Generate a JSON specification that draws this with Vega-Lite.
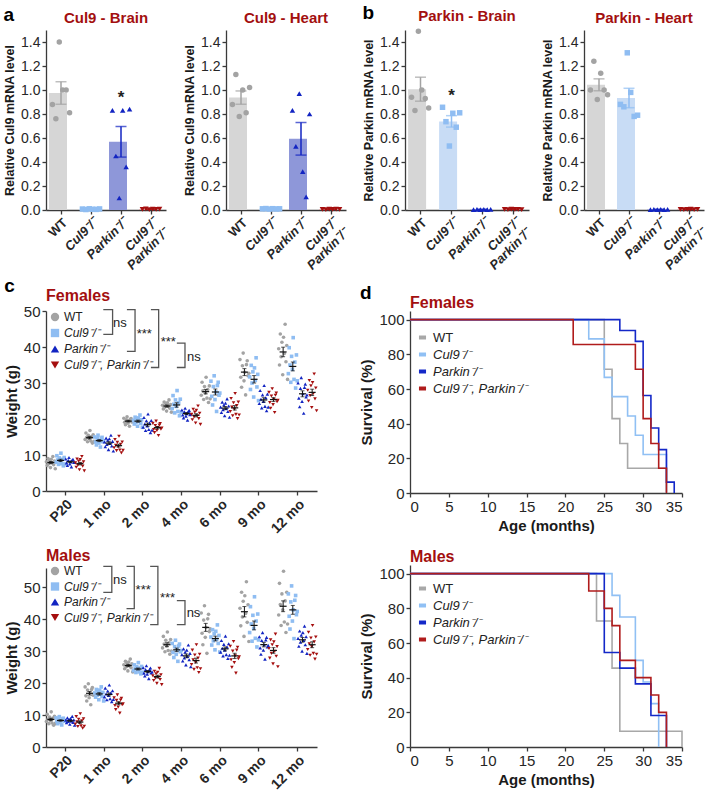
{
"$schema": "https://vega.github.io/schema/vega-lite/v6.json",
"padding": {"left": 3, "top": 4, "right": 0, "bottom": 0},
"config": {
  "font": "Liberation Sans",
  "view": {"stroke": null},
  "axis": {"grid": false, "labelOverlap": false, "domainColor": "#3a3a3a", "tickColor": "#3a3a3a", "domainWidth": 1.3, "tickWidth": 1.3, "tickSize": 4, "labelColor": "#262626", "titleColor": "#1a1a1a", "labelFontSize": 14, "titleFontSize": 14, "titleFontWeight": "bold", "labelFont": "Liberation Sans", "titleFont": "Liberation Sans"},
  "legend": {"labelFont": "Liberation Sans", "labelFontSize": 13, "labelColor": "#222"},
  "title": {"font": "Liberation Sans", "fontSize": 15, "fontWeight": "bold", "color": "#a30f0f"}
},
"datasets": {
  "bars": [
    {"p":"CB","g":"WT","v":[0.88,0.76,1.40,1.00,1.00,0.81],"r":[1,2,3,4,5,6]},
    {"p":"CB","g":"Cul9","v":[0.008,0.004,0.01,0.006,0.005,0.009],"r":[1,2,3,4,5,6]},
    {"p":"CB","g":"Parkin","v":[0.83,0.45,0.10,0.83,0.36,0.84],"r":[1,2,3,4,5,6]},
    {"p":"CB","g":"Dbl","v":[0.006,0.009,0.004,0.008,0.005,0.007],"r":[1,2,3,4,5,6]},
    {"p":"CH","g":"WT","v":[0.88,1.13,0.78,1.00,0.81,1.02],"r":[1,2,3,4,5,6]},
    {"p":"CH","g":"Cul9","v":[0.01,0.012,0.008,0.011,0.009,0.01],"r":[1,2,3,4,5,6]},
    {"p":"CH","g":"Parkin","v":[0.83,0.53,0.97,0.32,0.11,0.80],"r":[1,2,3,4,5,6]},
    {"p":"CH","g":"Dbl","v":[0.006,0.004,0.008,0.005,0.007,0.006],"r":[1,2,3,4,5,6]},
    {"p":"PB","g":"WT","v":[0.94,0.83,1.49,1.00,0.93,0.85],"r":[1,2,3,4,5,6]},
    {"p":"PB","g":"Cul9","v":[0.856,0.736,0.533,0.806,0.69,0.81],"r":[1,2,3,4,5,6]},
    {"p":"PB","g":"Parkin","v":[0.004,0.006,0.003,0.005,0.004,0.006],"r":[1,2,3,4,5,6]},
    {"p":"PB","g":"Dbl","v":[0.005,0.004,0.007,0.006,0.005,0.004],"r":[1,2,3,4,5,6]},
    {"p":"PH","g":"WT","v":[1.00,1.24,0.92,1.14,1.00,0.96],"r":[1,2,3,4,5,6]},
    {"p":"PH","g":"Cul9","v":[0.88,0.86,1.31,0.98,0.78,0.79],"r":[1,2,3,4,5,6]},
    {"p":"PH","g":"Parkin","v":[0.004,0.005,0.003,0.006,0.004,0.005],"r":[1,2,3,4,5,6]},
    {"p":"PH","g":"Dbl","v":[0.006,0.004,0.005,0.007,0.004,0.006],"r":[1,2,3,4,5,6]}
  ],
  "stars": [
    {"p":"CB","g":"Parkin","t":"*","v":0.93},
    {"p":"PB","g":"Cul9","t":"*","v":0.95}
  ],
  "wt": [
    {"s":"F","a":"P20","g":"WT","w":[8.1,7.1,9.0,7.6,8.5,6.5,8.8,7.8,9.6,7.3,8.3,6.2],"r":[1,2,3,4,5,6,7,8,9,10,11,12]},
    {"s":"F","a":"P20","g":"Cul9","w":[8.0,9.8,8.6,7.4,9.2,8.3,10.5,7.6,8.8,7.0,9.3,7.5],"r":[13,14,15,16,17,18,19,20,21,22,23,24]},
    {"s":"F","a":"P20","g":"Parkin","w":[8.9,7.8,7.1,8.5,9.3,7.5,8.1,6.7,8.6,8.8,7.9,8.0],"r":[25,26,27,28,29,30,31,32,33,34,35,36]},
    {"s":"F","a":"P20","g":"Dbl","w":[7.8,6.6,8.9,7.2,8.3,5.9,8.7,7.5,9.6,6.9,8.1,5.6],"r":[37,38,39,40,41,42,43,44,45,46,47,48]},
    {"s":"F","a":"1 mo","g":"WT","w":[14.3,16.1,14.9,13.7,15.5,14.6,16.8,13.9,15.1,13.3,15.6,13.8],"r":[1,2,3,4,5,6,7,8,9,10,11,12]},
    {"s":"F","a":"1 mo","g":"Cul9","w":[15.0,13.6,12.8,14.5,15.5,13.3,14.0,12.2,14.6,14.9,13.7,13.9],"r":[13,14,15,16,17,18,19,20,21,22,23,24]},
    {"s":"F","a":"1 mo","g":"Parkin","w":[13.6,12.3,14.7,12.9,14.1,11.5,14.5,13.2,15.5,12.5,13.8,11.1],"r":[25,26,27,28,29,30,31,32,33,34,35,36]},
    {"s":"F","a":"1 mo","g":"Dbl","w":[12.0,14.3,12.7,11.2,13.5,12.3,15.2,11.4,13.0,10.6,13.6,11.3],"r":[37,38,39,40,41,42,43,44,45,46,47,48]},
    {"s":"F","a":"2 mo","g":"WT","w":[20.2,19.1,18.4,19.8,20.6,18.8,19.4,18.0,19.9,20.1,19.2,19.3],"r":[1,2,3,4,5,6,7,8,9,10,11,12]},
    {"s":"F","a":"2 mo","g":"Cul9","w":[19.6,18.6,20.5,19.1,20.0,18.0,20.3,19.3,21.1,18.8,19.8,17.7],"r":[13,14,15,16,17,18,19,20,21,22,23,24]},
    {"s":"F","a":"2 mo","g":"Parkin","w":[17.7,20.4,18.6,16.8,19.5,18.1,21.4,17.1,18.9,16.2,19.6,16.9],"r":[25,26,27,28,29,30,31,32,33,34,35,36]},
    {"s":"F","a":"2 mo","g":"Dbl","w":[18.8,17.1,16.2,18.2,19.4,16.8,17.6,15.4,18.3,18.7,17.2,17.5],"r":[37,38,39,40,41,42,43,44,45,46,47,48]},
    {"s":"F","a":"4 mo","g":"WT","w":[23.8,22.8,24.7,23.3,24.2,22.2,24.5,23.5,25.3,23.0,24.0,21.9],"r":[1,2,3,4,5,6,7,8,9,10,11,12]},
    {"s":"F","a":"4 mo","g":"Cul9","w":[22.9,26.5,24.1,21.7,25.3,23.5,27.9,22.1,24.5,20.9,25.5,21.9],"r":[13,14,15,16,17,18,19,20,21,22,23,24]},
    {"s":"F","a":"4 mo","g":"Parkin","w":[22.5,21.1,20.3,22.0,23.0,20.8,21.5,19.7,22.1,22.4,21.2,21.4],"r":[25,26,27,28,29,30,31,32,33,34,35,36]},
    {"s":"F","a":"4 mo","g":"Dbl","w":[21.3,19.8,22.7,20.6,21.9,18.9,22.4,20.9,23.6,20.1,21.6,18.5],"r":[37,38,39,40,41,42,43,44,45,46,47,48]},
    {"s":"F","a":"6 mo","g":"WT","w":[26.6,30.2,27.8,25.4,29.0,27.2,31.6,25.8,28.2,24.6,29.2,25.6],"r":[1,2,3,4,5,6,7,8,9,10,11,12]},
    {"s":"F","a":"6 mo","g":"Cul9","w":[30.5,26.3,23.9,29.0,32.0,25.4,27.5,22.1,29.3,30.2,26.6,27.2],"r":[13,14,15,16,17,18,19,20,21,22,23,24]},
    {"s":"F","a":"6 mo","g":"Parkin","w":[23.3,21.8,24.7,22.6,23.9,20.9,24.4,22.9,25.6,22.1,23.6,20.5],"r":[25,26,27,28,29,30,31,32,33,34,35,36]},
    {"s":"F","a":"6 mo","g":"Dbl","w":[22.1,25.7,23.3,20.9,24.5,22.7,27.1,21.3,23.7,20.1,24.7,21.1],"r":[37,38,39,40,41,42,43,44,45,46,47,48]},
    {"s":"F","a":"9 mo","g":"WT","w":[36.5,31.6,28.8,34.8,38.3,30.6,33.0,26.7,35.1,36.2,32.0,32.7],"r":[1,2,3,4,5,6,7,8,9,10,11,12]},
    {"s":"F","a":"9 mo","g":"Cul9","w":[31.7,28.2,34.9,30.0,33.1,26.1,34.2,30.7,37.0,28.9,32.4,25.1],"r":[13,14,15,16,17,18,19,20,21,22,23,24]},
    {"s":"F","a":"9 mo","g":"Parkin","w":[24.3,27.9,25.5,23.1,26.7,24.9,29.3,23.5,25.9,22.3,26.9,23.3],"r":[25,26,27,28,29,30,31,32,33,34,35,36]},
    {"s":"F","a":"9 mo","g":"Dbl","w":[27.4,24.6,23.0,26.4,28.4,24.0,25.4,21.8,26.6,27.2,24.8,25.2],"r":[37,38,39,40,41,42,43,44,45,46,47,48]},
    {"s":"F","a":"12 mo","g":"WT","w":[39.5,35.0,43.6,37.3,41.3,32.3,42.7,38.2,46.3,35.9,40.4,31.0],"r":[1,2,3,4,5,6,7,8,9,10,11,12]},
    {"s":"F","a":"12 mo","g":"Cul9","w":[32.6,39.8,35.0,30.2,37.4,33.8,42.6,31.0,35.8,28.6,37.8,30.6],"r":[13,14,15,16,17,18,19,20,21,22,23,24]},
    {"s":"F","a":"12 mo","g":"Parkin","w":[30.0,25.8,23.4,28.5,31.5,24.9,27.0,21.6,28.8,29.7,26.1,26.7],"r":[25,26,27,28,29,30,31,32,33,34,35,36]},
    {"s":"F","a":"12 mo","g":"Dbl","w":[28.0,25.0,30.7,26.5,29.2,23.2,30.1,27.1,32.5,25.6,28.6,22.3],"r":[37,38,39,40,41,42,43,44,45,46,47,48]},
    {"s":"M","a":"P20","g":"WT","w":[8.0,10.2,8.7,7.3,9.4,8.4,11.0,7.5,9.0,6.8,9.6,7.4],"r":[1,2,3,4,5,6,7,8,9,10,11,12]},
    {"s":"M","a":"P20","g":"Cul9","w":[9.1,8.0,7.3,8.7,9.5,7.7,8.3,6.9,8.8,9.0,8.1,8.2],"r":[13,14,15,16,17,18,19,20,21,22,23,24]},
    {"s":"M","a":"P20","g":"Parkin","w":[8.4,7.6,9.1,8.0,8.7,7.1,8.9,8.1,9.6,7.7,8.5,6.8],"r":[25,26,27,28,29,30,31,32,33,34,35,36]},
    {"s":"M","a":"P20","g":"Dbl","w":[7.2,9.5,7.9,6.4,8.7,7.5,10.4,6.6,8.2,5.9,8.8,6.5],"r":[37,38,39,40,41,42,43,44,45,46,47,48]},
    {"s":"M","a":"1 mo","g":"WT","w":[18.8,16.0,14.4,17.8,19.8,15.4,16.8,13.2,18.0,18.6,16.2,16.6],"r":[1,2,3,4,5,6,7,8,9,10,11,12]},
    {"s":"M","a":"1 mo","g":"Cul9","w":[16.9,15.6,18.0,16.2,17.4,14.8,17.8,16.5,18.8,15.8,17.1,14.4],"r":[13,14,15,16,17,18,19,20,21,22,23,24]},
    {"s":"M","a":"1 mo","g":"Parkin","w":[15.7,18.4,16.6,14.8,17.5,16.1,19.4,15.1,16.9,14.2,17.6,14.9],"r":[25,26,27,28,29,30,31,32,33,34,35,36]},
    {"s":"M","a":"1 mo","g":"Dbl","w":[15.4,13.0,11.7,14.6,16.3,12.5,13.7,10.6,14.7,15.2,13.2,13.5],"r":[37,38,39,40,41,42,43,44,45,46,47,48]},
    {"s":"M","a":"2 mo","g":"WT","w":[25.7,24.5,26.8,25.1,26.2,23.8,26.6,25.4,27.5,24.8,26.0,23.5],"r":[1,2,3,4,5,6,7,8,9,10,11,12]},
    {"s":"M","a":"2 mo","g":"Cul9","w":[23.9,25.7,24.5,23.3,25.1,24.2,26.4,23.5,24.7,22.9,25.2,23.4],"r":[13,14,15,16,17,18,19,20,21,22,23,24]},
    {"s":"M","a":"2 mo","g":"Parkin","w":[24.8,23.1,22.2,24.2,25.4,22.8,23.6,21.4,24.3,24.7,23.2,23.5],"r":[25,26,27,28,29,30,31,32,33,34,35,36]},
    {"s":"M","a":"2 mo","g":"Dbl","w":[22.3,20.8,23.7,21.6,22.9,19.9,23.4,21.9,24.6,21.1,22.6,19.5],"r":[37,38,39,40,41,42,43,44,45,46,47,48]},
    {"s":"M","a":"4 mo","g":"WT","w":[31.0,34.6,32.2,29.8,33.4,31.6,36.0,30.2,32.6,29.0,33.6,30.0],"r":[1,2,3,4,5,6,7,8,9,10,11,12]},
    {"s":"M","a":"4 mo","g":"Cul9","w":[32.4,29.6,28.0,31.4,33.4,29.0,30.4,26.8,31.6,32.2,29.8,30.2],"r":[13,14,15,16,17,18,19,20,21,22,23,24]},
    {"s":"M","a":"4 mo","g":"Parkin","w":[28.9,26.9,30.7,27.9,29.7,25.7,30.3,28.3,31.9,27.3,29.3,25.1],"r":[25,26,27,28,29,30,31,32,33,34,35,36]},
    {"s":"M","a":"4 mo","g":"Dbl","w":[25.8,30.3,27.3,24.3,28.8,26.5,32.0,24.8,27.8,23.3,29.0,24.5],"r":[37,38,39,40,41,42,43,44,45,46,47,48]},
    {"s":"M","a":"6 mo","g":"WT","w":[41.9,35.6,32.0,39.7,44.2,34.3,37.4,29.3,40.1,41.5,36.1,37.0],"r":[1,2,3,4,5,6,7,8,9,10,11,12]},
    {"s":"M","a":"6 mo","g":"Cul9","w":[34.4,31.9,36.7,33.2,35.4,30.4,36.2,33.7,38.2,32.4,34.9,29.7],"r":[13,14,15,16,17,18,19,20,21,22,23,24]},
    {"s":"M","a":"6 mo","g":"Parkin","w":[29.7,33.3,30.9,28.5,32.1,30.3,34.7,28.9,31.3,27.7,32.3,28.7],"r":[25,26,27,28,29,30,31,32,33,34,35,36]},
    {"s":"M","a":"6 mo","g":"Dbl","w":[31.5,27.3,24.9,30.0,33.0,26.4,28.5,23.1,30.3,31.2,27.6,28.2],"r":[37,38,39,40,41,42,43,44,45,46,47,48]},
    {"s":"M","a":"9 mo","g":"WT","w":[43.4,37.9,48.4,40.7,45.6,34.6,47.3,41.8,51.7,39.0,44.5,33.0],"r":[1,2,3,4,5,6,7,8,9,10,11,12]},
    {"s":"M","a":"9 mo","g":"Cul9","w":[35.8,43.9,38.5,33.1,41.2,37.1,47.0,34.0,39.4,31.3,41.6,33.5],"r":[13,14,15,16,17,18,19,20,21,22,23,24]},
    {"s":"M","a":"9 mo","g":"Parkin","w":[34.5,31.0,29.0,33.3,35.8,30.3,32.0,27.5,33.5,34.3,31.3,31.8],"r":[25,26,27,28,29,30,31,32,33,34,35,36]},
    {"s":"M","a":"9 mo","g":"Dbl","w":[30.8,27.8,33.5,29.3,32.0,26.0,32.9,29.9,35.3,28.4,31.4,25.1],"r":[37,38,39,40,41,42,43,44,45,46,47,48]},
    {"s":"M","a":"12 mo","g":"WT","w":[41.3,51.2,44.6,38.0,47.9,42.9,55.0,39.1,45.7,35.8,48.4,38.5],"r":[1,2,3,4,5,6,7,8,9,10,11,12]},
    {"s":"M","a":"12 mo","g":"Cul9","w":[47.9,40.9,36.9,45.4,50.4,39.4,42.9,33.9,45.9,47.4,41.4,42.4],"r":[13,14,15,16,17,18,19,20,21,22,23,24]},
    {"s":"M","a":"12 mo","g":"Parkin","w":[34.0,31.5,36.3,32.8,35.0,30.0,35.8,33.3,37.8,32.0,34.5,29.3],"r":[25,26,27,28,29,30,31,32,33,34,35,36]},
    {"s":"M","a":"12 mo","g":"Dbl","w":[30.5,35.9,32.3,28.7,34.1,31.4,38.0,29.3,32.9,27.5,34.4,29.0],"r":[37,38,39,40,41,42,43,44,45,46,47,48]}
  ],
  "br": [
    {"s":"F","b":1,"x":[1.48,1.72,1.72,1.48],"y":[50.4,50.4,43.5,43.5],"o":[1,2,3,4]},
    {"s":"F","b":2,"x":[2.09,2.30,2.30,2.09],"y":[50.4,50.4,38.8,38.8],"o":[1,2,3,4]},
    {"s":"F","b":3,"x":[2.71,2.91,2.91,2.71],"y":[50.4,50.4,34.3,34.3],"o":[1,2,3,4]},
    {"s":"F","b":4,"x":[3.38,3.59,3.59,3.38],"y":[41.1,41.1,34.3,34.3],"o":[1,2,3,4]},
    {"s":"M","b":1,"x":[1.48,1.70,1.70,1.48],"y":[56.5,56.5,48.4,48.4],"o":[1,2,3,4]},
    {"s":"M","b":2,"x":[2.08,2.28,2.28,2.08],"y":[56.5,56.5,43.3,43.3],"o":[1,2,3,4]},
    {"s":"M","b":3,"x":[2.69,2.89,2.89,2.69],"y":[56.5,56.5,38.3,38.3],"o":[1,2,3,4]},
    {"s":"M","b":4,"x":[3.38,3.59,3.59,3.38],"y":[45.8,45.8,38.3,38.3],"o":[1,2,3,4]}
  ],
  "bt": [
    {"s":"F","t":"ns","x":1.91,"y":46.8},{"s":"F","t":"***","x":2.54,"y":43.6},{"s":"F","t":"***","x":3.16,"y":41.5},{"s":"F","t":"ns","x":3.82,"y":37.2},
    {"s":"M","t":"ns","x":1.91,"y":52.3},{"s":"M","t":"***","x":2.51,"y":49.1},{"s":"M","t":"***","x":3.14,"y":46.5},{"s":"M","t":"ns","x":3.81,"y":41.9}
  ],
  "sv": [
    {"s":"F","g":"WT","t":[0,25,26,27,28,33],"v":[100,71.4,42.9,28.6,14.3,0]},
    {"s":"F","g":"Cul9","t":[0,23,25,26,28,29,30,33],"v":[100,88.9,66.7,55.6,44.4,33.3,22.2,0]},
    {"s":"F","g":"Parkin","t":[0,27,29,30,31,32,33,34],"v":[100,93.75,87.5,56.25,37.5,25,6.25,0]},
    {"s":"F","g":"Dbl","t":[0,21,29,30,31,32,33],"v":[100,85.7,71.4,42.9,28.6,14.3,0]},
    {"s":"M","g":"WT","t":[0,24,26,27,35],"v":[100,72.7,45.5,9.1,0]},
    {"s":"M","g":"Cul9","t":[0,26,27,29,30,31,32],"v":[100,87.5,75,50,37.5,25,0]},
    {"s":"M","g":"Parkin","t":[0,25,27,29,31,33],"v":[100,54.5,45.5,36.4,18.2,0]},
    {"s":"M","g":"Dbl","t":[0,23,25,26,27,29,31,32,33],"v":[100,90,80,70,50,40,30,20,0]}
  ]
},
"resolve": {"scale": {"color": "independent", "fill": "independent", "shape": "independent"}},
"vconcat": [
  {"resolve": {"scale": {"color": "independent", "fill": "independent", "shape": "independent"}},
   "hconcat": [
    {"title": {"text": "a", "anchor": "start", "fontSize": 19, "color": "#000", "offset": -14},
     "resolve": {"scale": {"color": "independent", "fill": "independent", "shape": "independent"}},
     "hconcat": [
      {"width": 120, "height": 180, "title": {"text": "Cul9 - Brain"},
       "encoding": {"x": {"field": "g", "type": "nominal", "title": null, "scale": {"domain": ["WT","Cul9","Parkin","Dbl"], "paddingInner": 0.2, "paddingOuter": 0.1},
         "axis": {"labelAngle": -45, "labelAlign": "right", "labelBaseline": "top", "labelFontWeight": "bold", "labelFontSize": 13, "labelPadding": 2,
           "labelFontStyle": {"condition": {"test": "datum.value == 'WT'", "value": "normal"}, "value": "italic"},
           "labelExpr": "datum.value == 'WT' ? 'WT' : datum.value == 'Dbl' ? ['Cul9⁻/⁻', 'Parkin⁻/⁻'] : datum.value + '⁻/⁻'"}}},
       "layer": [
        {"data": {"name": "bars"}, "transform": [{"filter": "datum.p == 'CB'"}, {"flatten": ["v","r"]}], "mark": {"type": "bar"},
         "encoding": {"y": {"aggregate": "mean", "field": "v", "type": "quantitative", "title": "Relative Cul9 mRNA level", "scale": {"domain": [0,1.5], "nice": false}, "axis": {"values": [0,0.2,0.4,0.6,0.8,1,1.2,1.4], "format": ".1f", "titleFontSize": 12.5, "labelOverlap": false}},
           "fill": {"field": "g", "type": "nominal", "scale": {"domain": ["WT","Cul9","Parkin","Dbl"], "range": ["#d6d6d6","#c8dcf5","#8e97d9","#e6a3a3"]}, "legend": null}}},
        {"data": {"name": "bars"}, "transform": [{"filter": "datum.p == 'CB'"}, {"flatten": ["v","r"]}], "mark": {"type": "errorbar", "extent": "stderr", "ticks": {"size": 11, "thickness": 1.5}, "rule": {"strokeWidth": 1.5}},
         "encoding": {"y": {"field": "v", "type": "quantitative", "title": "Relative Cul9 mRNA level", "axis": {"values": [0,0.2,0.4,0.6,0.8,1,1.2,1.4], "format": ".1f", "titleFontSize": 12.5, "labelOverlap": false}},
           "color": {"field": "g", "type": "nominal", "scale": {"domain": ["WT","Cul9","Parkin","Dbl"], "range": ["#a3a3a3","#8fbdf2","#1224c2","#a50f0f"]}, "legend": null}}},
        {"data": {"name": "bars"}, "transform": [{"filter": "datum.p == 'CB'"}, {"flatten": ["v","r"]}], "mark": {"type": "point", "filled": true, "size": 30, "opacity": 1},
         "encoding": {"y": {"field": "v", "type": "quantitative", "title": "Relative Cul9 mRNA level", "axis": {"values": [0,0.2,0.4,0.6,0.8,1,1.2,1.4], "format": ".1f", "titleFontSize": 12.5, "labelOverlap": false}},
           "xOffset": {"field": "r", "type": "ordinal", "scale": {"paddingOuter": 2}},
           "color": {"field": "g", "type": "nominal", "scale": {"domain": ["WT","Cul9","Parkin","Dbl"], "range": ["#a3a3a3","#8fbdf2","#1224c2","#a50f0f"]}, "legend": null},
           "shape": {"field": "g", "type": "nominal", "scale": {"domain": ["WT","Cul9","Parkin","Dbl"], "range": ["circle","square","triangle-up","triangle-down"]}, "legend": null}}},
        {"data": {"name": "stars"}, "transform": [{"filter": "datum.p == 'CB'"}], "mark": {"type": "text", "fontSize": 17, "fontWeight": "bold", "color": "#222"},
         "encoding": {"y": {"field": "v", "type": "quantitative", "title": "Relative Cul9 mRNA level", "axis": {"values": [0,0.2,0.4,0.6,0.8,1,1.2,1.4], "format": ".1f", "titleFontSize": 12.5, "labelOverlap": false}}, "text": {"field": "t"}}}
       ]},
      {"width": 120, "height": 180, "title": {"text": "Cul9 - Heart"},
       "encoding": {"x": {"field": "g", "type": "nominal", "title": null, "scale": {"domain": ["WT","Cul9","Parkin","Dbl"], "paddingInner": 0.2, "paddingOuter": 0.1},
         "axis": {"labelAngle": -45, "labelAlign": "right", "labelBaseline": "top", "labelFontWeight": "bold", "labelFontSize": 13, "labelPadding": 2,
           "labelFontStyle": {"condition": {"test": "datum.value == 'WT'", "value": "normal"}, "value": "italic"},
           "labelExpr": "datum.value == 'WT' ? 'WT' : datum.value == 'Dbl' ? ['Cul9⁻/⁻', 'Parkin⁻/⁻'] : datum.value + '⁻/⁻'"}}},
       "layer": [
        {"data": {"name": "bars"}, "transform": [{"filter": "datum.p == 'CH'"}, {"flatten": ["v","r"]}], "mark": {"type": "bar"},
         "encoding": {"y": {"aggregate": "mean", "field": "v", "type": "quantitative", "title": "Relative Cul9 mRNA level", "scale": {"domain": [0,1.5], "nice": false}, "axis": {"values": [0,0.2,0.4,0.6,0.8,1,1.2,1.4], "format": ".1f", "titleFontSize": 12.5, "labelOverlap": false}},
           "fill": {"field": "g", "type": "nominal", "scale": {"domain": ["WT","Cul9","Parkin","Dbl"], "range": ["#d6d6d6","#c8dcf5","#8e97d9","#e6a3a3"]}, "legend": null}}},
        {"data": {"name": "bars"}, "transform": [{"filter": "datum.p == 'CH'"}, {"flatten": ["v","r"]}], "mark": {"type": "errorbar", "extent": "stderr", "ticks": {"size": 11, "thickness": 1.5}, "rule": {"strokeWidth": 1.5}},
         "encoding": {"y": {"field": "v", "type": "quantitative", "title": "Relative Cul9 mRNA level", "axis": {"values": [0,0.2,0.4,0.6,0.8,1,1.2,1.4], "format": ".1f", "titleFontSize": 12.5, "labelOverlap": false}},
           "color": {"field": "g", "type": "nominal", "scale": {"domain": ["WT","Cul9","Parkin","Dbl"], "range": ["#a3a3a3","#8fbdf2","#1224c2","#a50f0f"]}, "legend": null}}},
        {"data": {"name": "bars"}, "transform": [{"filter": "datum.p == 'CH'"}, {"flatten": ["v","r"]}], "mark": {"type": "point", "filled": true, "size": 30, "opacity": 1},
         "encoding": {"y": {"field": "v", "type": "quantitative", "title": "Relative Cul9 mRNA level", "axis": {"values": [0,0.2,0.4,0.6,0.8,1,1.2,1.4], "format": ".1f", "titleFontSize": 12.5, "labelOverlap": false}},
           "xOffset": {"field": "r", "type": "ordinal", "scale": {"paddingOuter": 2}},
           "color": {"field": "g", "type": "nominal", "scale": {"domain": ["WT","Cul9","Parkin","Dbl"], "range": ["#a3a3a3","#8fbdf2","#1224c2","#a50f0f"]}, "legend": null},
           "shape": {"field": "g", "type": "nominal", "scale": {"domain": ["WT","Cul9","Parkin","Dbl"], "range": ["circle","square","triangle-up","triangle-down"]}, "legend": null}}}
       ]}
     ], "spacing": 12},
    {"title": {"text": "b", "anchor": "start", "fontSize": 19, "color": "#000", "offset": -14},
     "resolve": {"scale": {"color": "independent", "fill": "independent", "shape": "independent"}},
     "hconcat": [
      {"width": 124, "height": 180, "title": {"text": "Parkin - Brain"},
       "encoding": {"x": {"field": "g", "type": "nominal", "title": null, "scale": {"domain": ["WT","Cul9","Parkin","Dbl"], "paddingInner": 0.2, "paddingOuter": 0.1},
         "axis": {"labelAngle": -45, "labelAlign": "right", "labelBaseline": "top", "labelFontWeight": "bold", "labelFontSize": 13, "labelPadding": 2,
           "labelFontStyle": {"condition": {"test": "datum.value == 'WT'", "value": "normal"}, "value": "italic"},
           "labelExpr": "datum.value == 'WT' ? 'WT' : datum.value == 'Dbl' ? ['Cul9⁻/⁻', 'Parkin⁻/⁻'] : datum.value + '⁻/⁻'"}}},
       "layer": [
        {"data": {"name": "bars"}, "transform": [{"filter": "datum.p == 'PB'"}, {"flatten": ["v","r"]}], "mark": {"type": "bar"},
         "encoding": {"y": {"aggregate": "mean", "field": "v", "type": "quantitative", "title": "Relative Parkin mRNA level", "scale": {"domain": [0,1.5], "nice": false}, "axis": {"values": [0,0.2,0.4,0.6,0.8,1,1.2,1.4], "format": ".1f", "titleFontSize": 12.5, "labelOverlap": false}},
           "fill": {"field": "g", "type": "nominal", "scale": {"domain": ["WT","Cul9","Parkin","Dbl"], "range": ["#d6d6d6","#c8dcf5","#8e97d9","#e6a3a3"]}, "legend": null}}},
        {"data": {"name": "bars"}, "transform": [{"filter": "datum.p == 'PB'"}, {"flatten": ["v","r"]}], "mark": {"type": "errorbar", "extent": "stderr", "ticks": {"size": 11, "thickness": 1.5}, "rule": {"strokeWidth": 1.5}},
         "encoding": {"y": {"field": "v", "type": "quantitative", "title": "Relative Parkin mRNA level", "axis": {"values": [0,0.2,0.4,0.6,0.8,1,1.2,1.4], "format": ".1f", "titleFontSize": 12.5, "labelOverlap": false}},
           "color": {"field": "g", "type": "nominal", "scale": {"domain": ["WT","Cul9","Parkin","Dbl"], "range": ["#a3a3a3","#8fbdf2","#1224c2","#a50f0f"]}, "legend": null}}},
        {"data": {"name": "bars"}, "transform": [{"filter": "datum.p == 'PB'"}, {"flatten": ["v","r"]}], "mark": {"type": "point", "filled": true, "size": 30, "opacity": 1},
         "encoding": {"y": {"field": "v", "type": "quantitative", "title": "Relative Parkin mRNA level", "axis": {"values": [0,0.2,0.4,0.6,0.8,1,1.2,1.4], "format": ".1f", "titleFontSize": 12.5, "labelOverlap": false}},
           "xOffset": {"field": "r", "type": "ordinal", "scale": {"paddingOuter": 2}},
           "color": {"field": "g", "type": "nominal", "scale": {"domain": ["WT","Cul9","Parkin","Dbl"], "range": ["#a3a3a3","#8fbdf2","#1224c2","#a50f0f"]}, "legend": null},
           "shape": {"field": "g", "type": "nominal", "scale": {"domain": ["WT","Cul9","Parkin","Dbl"], "range": ["circle","square","triangle-up","triangle-down"]}, "legend": null}}},
        {"data": {"name": "stars"}, "transform": [{"filter": "datum.p == 'PB'"}], "mark": {"type": "text", "fontSize": 17, "fontWeight": "bold", "color": "#222"},
         "encoding": {"y": {"field": "v", "type": "quantitative", "title": "Relative Parkin mRNA level", "axis": {"values": [0,0.2,0.4,0.6,0.8,1,1.2,1.4], "format": ".1f", "titleFontSize": 12.5, "labelOverlap": false}}, "text": {"field": "t"}}}
       ]},
      {"width": 120, "height": 180, "title": {"text": "Parkin - Heart"},
       "encoding": {"x": {"field": "g", "type": "nominal", "title": null, "scale": {"domain": ["WT","Cul9","Parkin","Dbl"], "paddingInner": 0.2, "paddingOuter": 0.1},
         "axis": {"labelAngle": -45, "labelAlign": "right", "labelBaseline": "top", "labelFontWeight": "bold", "labelFontSize": 13, "labelPadding": 2,
           "labelFontStyle": {"condition": {"test": "datum.value == 'WT'", "value": "normal"}, "value": "italic"},
           "labelExpr": "datum.value == 'WT' ? 'WT' : datum.value == 'Dbl' ? ['Cul9⁻/⁻', 'Parkin⁻/⁻'] : datum.value + '⁻/⁻'"}}},
       "layer": [
        {"data": {"name": "bars"}, "transform": [{"filter": "datum.p == 'PH'"}, {"flatten": ["v","r"]}], "mark": {"type": "bar"},
         "encoding": {"y": {"aggregate": "mean", "field": "v", "type": "quantitative", "title": "Relative Parkin mRNA level", "scale": {"domain": [0,1.5], "nice": false}, "axis": {"values": [0,0.2,0.4,0.6,0.8,1,1.2,1.4], "format": ".1f", "titleFontSize": 12.5, "labelOverlap": false}},
           "fill": {"field": "g", "type": "nominal", "scale": {"domain": ["WT","Cul9","Parkin","Dbl"], "range": ["#d6d6d6","#c8dcf5","#8e97d9","#e6a3a3"]}, "legend": null}}},
        {"data": {"name": "bars"}, "transform": [{"filter": "datum.p == 'PH'"}, {"flatten": ["v","r"]}], "mark": {"type": "errorbar", "extent": "stderr", "ticks": {"size": 11, "thickness": 1.5}, "rule": {"strokeWidth": 1.5}},
         "encoding": {"y": {"field": "v", "type": "quantitative", "title": "Relative Parkin mRNA level", "axis": {"values": [0,0.2,0.4,0.6,0.8,1,1.2,1.4], "format": ".1f", "titleFontSize": 12.5, "labelOverlap": false}},
           "color": {"field": "g", "type": "nominal", "scale": {"domain": ["WT","Cul9","Parkin","Dbl"], "range": ["#a3a3a3","#8fbdf2","#1224c2","#a50f0f"]}, "legend": null}}},
        {"data": {"name": "bars"}, "transform": [{"filter": "datum.p == 'PH'"}, {"flatten": ["v","r"]}], "mark": {"type": "point", "filled": true, "size": 30, "opacity": 1},
         "encoding": {"y": {"field": "v", "type": "quantitative", "title": "Relative Parkin mRNA level", "axis": {"values": [0,0.2,0.4,0.6,0.8,1,1.2,1.4], "format": ".1f", "titleFontSize": 12.5, "labelOverlap": false}},
           "xOffset": {"field": "r", "type": "ordinal", "scale": {"paddingOuter": 2}},
           "color": {"field": "g", "type": "nominal", "scale": {"domain": ["WT","Cul9","Parkin","Dbl"], "range": ["#a3a3a3","#8fbdf2","#1224c2","#a50f0f"]}, "legend": null},
           "shape": {"field": "g", "type": "nominal", "scale": {"domain": ["WT","Cul9","Parkin","Dbl"], "range": ["circle","square","triangle-up","triangle-down"]}, "legend": null}}}
       ]}
     ], "spacing": 8}
  ], "spacing": 11},
  {"resolve": {"scale": {"color": "independent", "fill": "independent", "shape": "independent"}},
   "hconcat": [
    {"title": {"text": "c", "anchor": "start", "fontSize": 19, "color": "#000", "offset": -8},
     "resolve": {"scale": {"color": "independent", "fill": "independent", "shape": "independent"}},
     "vconcat": [
      {"width": 271, "height": 180, "title": {"text": "Females", "anchor": "start", "frame": "group", "fontSize": 16, "offset": 0},
       "layer": [
        {"data": {"name": "wt"}, "transform": [{"filter": "datum.s == 'F'"}, {"flatten": ["w","r"]}],
         "encoding": {
           "x": {"field": "a", "type": "nominal", "title": null, "scale": {"domain": ["P20","1 mo","2 mo","4 mo","6 mo","9 mo","12 mo"], "paddingInner": 0, "paddingOuter": 0},
             "axis": {"labelAngle": -45, "labelAlign": "right", "labelBaseline": "top", "labelFontWeight": "bold", "labelFontSize": 14, "labelPadding": 2}},
           "y": {"field": "w", "type": "quantitative", "title": "Weight (g)", "scale": {"domain": [0,50], "nice": false}, "axis": {"values": [0,10,20,30,40,50], "titleFontSize": 15, "labelFontSize": 15, "labelOverlap": false}}},
         "layer": [
          {"mark": {"type": "point", "filled": true, "size": 13, "opacity": 1},
           "encoding": {"xOffset": {"field": "r", "type": "ordinal"},
             "color": {"field": "g", "type": "nominal", "scale": {"domain": ["WT","Cul9","Parkin","Dbl"], "range": ["#a3a3a3","#8fbdf2","#1224c2","#a50f0f"]},
               "legend": {"orient": "none", "legendX": 3, "legendY": 0, "title": null, "symbolSize": 70, "labelFontSize": 12, "labelOffset": 3, "rowPadding": 4, "labelExpr": "datum.value == 'WT' ? 'WT' : datum.value == 'Dbl' ? 'Cul9⁻/⁻, Parkin⁻/⁻' : datum.value + '⁻/⁻'", "labelFontStyle": {"expr": "datum.value == 'WT' ? 'normal' : 'italic'"}}},
             "shape": {"field": "g", "type": "nominal", "scale": {"domain": ["WT","Cul9","Parkin","Dbl"], "range": ["circle","square","triangle-up","triangle-down"]},
               "legend": {"orient": "none", "legendX": 3, "legendY": 0, "title": null, "symbolSize": 70, "labelFontSize": 12, "labelOffset": 3, "rowPadding": 4, "labelExpr": "datum.value == 'WT' ? 'WT' : datum.value == 'Dbl' ? 'Cul9⁻/⁻, Parkin⁻/⁻' : datum.value + '⁻/⁻'", "labelFontStyle": {"expr": "datum.value == 'WT' ? 'normal' : 'italic'"}}}}},
          {"mark": {"type": "errorbar", "extent": "stderr", "color": "#111", "ticks": {"size": 4}},
           "encoding": {"xOffset": {"field": "g", "type": "nominal", "scale": {"domain": ["WT","Cul9","Parkin","Dbl"]}}}},
          {"mark": {"type": "tick", "color": "#111", "size": 7, "thickness": 1.2},
           "encoding": {"xOffset": {"field": "g", "type": "nominal", "scale": {"domain": ["WT","Cul9","Parkin","Dbl"]}}, "y": {"aggregate": "mean", "field": "w", "type": "quantitative", "title": "Weight (g)", "axis": {"values": [0,10,20,30,40,50], "titleFontSize": 15, "labelFontSize": 15, "labelOverlap": false}}}}
         ],
         "resolve": {"scale": {"xOffset": "independent"}}},
        {"data": {"name": "br"}, "transform": [{"filter": "datum.s == 'F'"}, {"flatten": ["x","y","o"]}],
         "mark": {"type": "line", "color": "#555", "strokeWidth": 1.3},
         "encoding": {"x": {"field": "x", "type": "quantitative", "scale": {"domain": [0,7], "nice": false, "zero": false}, "axis": null},
           "y": {"field": "y", "type": "quantitative", "title": "Weight (g)", "axis": {"values": [0,10,20,30,40,50], "titleFontSize": 15, "labelFontSize": 15, "labelOverlap": false}}, "detail": {"field": "b"}, "order": {"field": "o", "type": "quantitative"}}},
        {"data": {"name": "bt"}, "transform": [{"filter": "datum.s == 'F'"}],
         "mark": {"type": "text", "fontSize": 13, "color": "#222"},
         "encoding": {"x": {"field": "x", "type": "quantitative", "scale": {"domain": [0,7], "nice": false, "zero": false}, "axis": null},
           "y": {"field": "y", "type": "quantitative", "title": "Weight (g)", "axis": {"values": [0,10,20,30,40,50], "titleFontSize": 15, "labelFontSize": 15, "labelOverlap": false}}, "text": {"field": "t"}}}
       ],
       "resolve": {"scale": {"x": "independent"}}},
      {"width": 271, "height": 179, "title": {"text": "Males", "anchor": "start", "frame": "group", "fontSize": 16, "offset": 0},
       "layer": [
        {"data": {"name": "wt"}, "transform": [{"filter": "datum.s == 'M'"}, {"flatten": ["w","r"]}],
         "encoding": {
           "x": {"field": "a", "type": "nominal", "title": null, "scale": {"domain": ["P20","1 mo","2 mo","4 mo","6 mo","9 mo","12 mo"], "paddingInner": 0, "paddingOuter": 0},
             "axis": {"labelAngle": -45, "labelAlign": "right", "labelBaseline": "top", "labelFontWeight": "bold", "labelFontSize": 14, "labelPadding": 2}},
           "y": {"field": "w", "type": "quantitative", "title": "Weight (g)", "scale": {"domain": [0,56], "nice": false}, "axis": {"values": [0,10,20,30,40,50], "titleFontSize": 15, "labelFontSize": 15, "labelOverlap": false}}},
         "layer": [
          {"mark": {"type": "point", "filled": true, "size": 13, "opacity": 1},
           "encoding": {"xOffset": {"field": "r", "type": "ordinal"},
             "color": {"field": "g", "type": "nominal", "scale": {"domain": ["WT","Cul9","Parkin","Dbl"], "range": ["#a3a3a3","#8fbdf2","#1224c2","#a50f0f"]},
               "legend": {"orient": "none", "legendX": 3, "legendY": -3, "title": null, "symbolSize": 70, "labelFontSize": 12, "labelOffset": 3, "rowPadding": 3.5, "labelExpr": "datum.value == 'WT' ? 'WT' : datum.value == 'Dbl' ? 'Cul9⁻/⁻, Parkin⁻/⁻' : datum.value + '⁻/⁻'", "labelFontStyle": {"expr": "datum.value == 'WT' ? 'normal' : 'italic'"}}},
             "shape": {"field": "g", "type": "nominal", "scale": {"domain": ["WT","Cul9","Parkin","Dbl"], "range": ["circle","square","triangle-up","triangle-down"]},
               "legend": {"orient": "none", "legendX": 3, "legendY": -3, "title": null, "symbolSize": 70, "labelFontSize": 12, "labelOffset": 3, "rowPadding": 3.5, "labelExpr": "datum.value == 'WT' ? 'WT' : datum.value == 'Dbl' ? 'Cul9⁻/⁻, Parkin⁻/⁻' : datum.value + '⁻/⁻'", "labelFontStyle": {"expr": "datum.value == 'WT' ? 'normal' : 'italic'"}}}}},
          {"mark": {"type": "errorbar", "extent": "stderr", "color": "#111", "ticks": {"size": 4}},
           "encoding": {"xOffset": {"field": "g", "type": "nominal", "scale": {"domain": ["WT","Cul9","Parkin","Dbl"]}}}},
          {"mark": {"type": "tick", "color": "#111", "size": 7, "thickness": 1.2},
           "encoding": {"xOffset": {"field": "g", "type": "nominal", "scale": {"domain": ["WT","Cul9","Parkin","Dbl"]}}, "y": {"aggregate": "mean", "field": "w", "type": "quantitative", "title": "Weight (g)", "axis": {"values": [0,10,20,30,40,50], "titleFontSize": 15, "labelFontSize": 15, "labelOverlap": false}}}}
         ],
         "resolve": {"scale": {"xOffset": "independent"}}},
        {"data": {"name": "br"}, "transform": [{"filter": "datum.s == 'M'"}, {"flatten": ["x","y","o"]}],
         "mark": {"type": "line", "color": "#555", "strokeWidth": 1.3},
         "encoding": {"x": {"field": "x", "type": "quantitative", "scale": {"domain": [0,7], "nice": false, "zero": false}, "axis": null},
           "y": {"field": "y", "type": "quantitative", "title": "Weight (g)", "axis": {"values": [0,10,20,30,40,50], "titleFontSize": 15, "labelFontSize": 15, "labelOverlap": false}}, "detail": {"field": "b"}, "order": {"field": "o", "type": "quantitative"}}},
        {"data": {"name": "bt"}, "transform": [{"filter": "datum.s == 'M'"}],
         "mark": {"type": "text", "fontSize": 13, "color": "#222"},
         "encoding": {"x": {"field": "x", "type": "quantitative", "scale": {"domain": [0,7], "nice": false, "zero": false}, "axis": null},
           "y": {"field": "y", "type": "quantitative", "title": "Weight (g)", "axis": {"values": [0,10,20,30,40,50], "titleFontSize": 15, "labelFontSize": 15, "labelOverlap": false}}, "text": {"field": "t"}}}
       ],
       "resolve": {"scale": {"x": "independent"}}}
     ], "spacing": 11},
    {"title": {"text": "d", "anchor": "start", "fontSize": 19, "color": "#000", "offset": -8},
     "resolve": {"scale": {"color": "independent", "fill": "independent", "shape": "independent"}},
     "vconcat": [
      {"width": 272, "height": 182, "title": {"text": "Females", "anchor": "start", "frame": "group", "fontSize": 16, "offset": 0},
       "data": {"name": "sv"}, "transform": [{"filter": "datum.s == 'F'"}, {"flatten": ["t","v"]}],
       "mark": {"type": "line", "interpolate": "step-after", "strokeWidth": 1.6},
       "encoding": {
         "x": {"field": "t", "type": "quantitative", "title": "Age (months)", "scale": {"domain": [0,35], "nice": false}, "axis": {"values": [0,5,10,15,20,25,30,35], "titleFontSize": 15, "labelFontSize": 15}},
         "y": {"field": "v", "type": "quantitative", "title": "Survival (%)", "scale": {"domain": [0,105], "nice": false}, "axis": {"values": [0,20,40,60,80,100], "titleFontSize": 15, "labelFontSize": 15}},
         "color": {"field": "g", "type": "nominal", "scale": {"domain": ["WT","Cul9","Parkin","Dbl"], "range": ["#a8a8a8","#90c0f4","#1428c8","#b01c1c"]},
           "legend": {"orient": "none", "legendX": 6, "legendY": 20, "title": null, "symbolType": "stroke", "symbolStrokeWidth": 4, "symbolSize": 50, "labelFontSize": 13, "rowPadding": 0, "labelExpr": "datum.value == 'WT' ? 'WT' : datum.value == 'Dbl' ? 'Cul9⁻/⁻, Parkin⁻/⁻' : datum.value + '⁻/⁻'", "labelFontStyle": {"expr": "datum.value == 'WT' ? 'normal' : 'italic'"}}}}},
      {"width": 272, "height": 182, "title": {"text": "Males", "anchor": "start", "frame": "group", "fontSize": 16, "offset": 0},
       "data": {"name": "sv"}, "transform": [{"filter": "datum.s == 'M'"}, {"flatten": ["t","v"]}],
       "mark": {"type": "line", "interpolate": "step-after", "strokeWidth": 1.6},
       "encoding": {
         "x": {"field": "t", "type": "quantitative", "title": "Age (months)", "scale": {"domain": [0,35], "nice": false}, "axis": {"values": [0,5,10,15,20,25,30,35], "titleFontSize": 15, "labelFontSize": 15}},
         "y": {"field": "v", "type": "quantitative", "title": "Survival (%)", "scale": {"domain": [0,105], "nice": false}, "axis": {"values": [0,20,40,60,80,100], "titleFontSize": 15, "labelFontSize": 15}},
         "color": {"field": "g", "type": "nominal", "scale": {"domain": ["WT","Cul9","Parkin","Dbl"], "range": ["#a8a8a8","#90c0f4","#1428c8","#b01c1c"]},
           "legend": {"orient": "none", "legendX": 6, "legendY": 17, "title": null, "symbolType": "stroke", "symbolStrokeWidth": 4, "symbolSize": 50, "labelFontSize": 13, "rowPadding": 0, "labelExpr": "datum.value == 'WT' ? 'WT' : datum.value == 'Dbl' ? 'Cul9⁻/⁻, Parkin⁻/⁻' : datum.value + '⁻/⁻'", "labelFontStyle": {"expr": "datum.value == 'WT' ? 'normal' : 'italic'"}}}}}
     ], "spacing": 16}
  ], "spacing": 40}
],
"spacing": 4
}
